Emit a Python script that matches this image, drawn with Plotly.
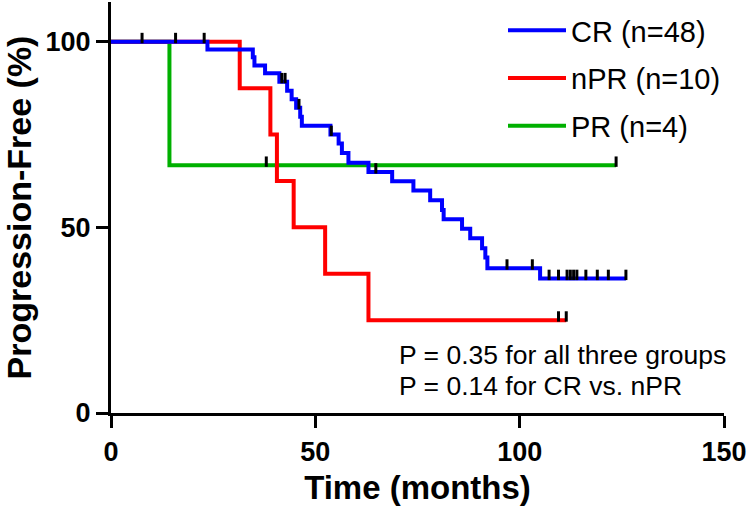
import plotly.graph_objects as go
import numpy as np

# ---- data ----
cr_time = [0, 23.6, 34.7, 35.1, 37.7, 41.2, 43.1, 44.2, 45.3, 46.3, 46.7, 53.7, 55.7, 56.5,
           58.1, 63.0, 68.8, 74.0, 78.1, 81.0, 81.4, 85.9, 87.9, 90.8, 91.6, 92.1, 105.0, 126.0]
cr_surv = [100, 97.9, 95.8, 93.6, 91.5, 89.2, 86.8, 84.5, 82.2, 79.8, 77.4, 75.0, 72.6, 70.0,
           67.4, 64.9, 62.4, 59.9, 57.3, 54.7, 52.2, 49.6, 47.1, 44.4, 41.9, 39.0, 36.2, 36.2]
cr_censor = [7.6, 15.8, 22.8, 41.8, 42.6, 46.0, 53.9, 64.8, 96.9, 103.1, 107.2, 109.5,
             111.6, 112.4, 113.2, 114.0, 116.2, 119.0, 121.7, 126.0]

npr_time = [0, 31.5, 39.0, 40.6, 44.7, 52.4, 63.0, 111.4]
npr_surv = [100, 87.5, 75.0, 62.5, 50.0, 37.5, 25.0, 25.0]
npr_censor = [109.5, 111.4]

pr_time = [0, 14.3, 123.6]
pr_surv = [100, 66.7, 66.7]
pr_censor = [38.0, 123.6]

names = ["CR (n=48)", "nPR (n=10)", "PR (n=4)"]
x_ticks = [0, 50, 100, 150]
y_ticks = [0, 50, 100]

BLUE, RED, GREEN = "#0000FF", "#FF0000", "#00B000"
FONT = "Arial, Liberation Sans, sans-serif"


def level_at(times, surv, t):
    idx = np.searchsorted(np.asarray(times), t, side="right") - 1
    return [surv[i] for i in idx]


groups = [
    (names[2], pr_time, pr_surv, pr_censor, GREEN),
    (names[1], npr_time, npr_surv, npr_censor, RED),
    (names[0], cr_time, cr_surv, cr_censor, BLUE),
]
legend_rank = {names[0]: 1, names[1]: 2, names[2]: 3}

fig = go.Figure()
for name, t, s, c, col in groups:
    fig.add_trace(go.Scatter(
        x=t, y=s, mode="lines", name=name, line=dict(color=col, width=4, shape="hv"),
        legendrank=legend_rank[name], legendgroup=name,
    ))
for name, t, s, c, col in groups:
    fig.add_trace(go.Scatter(
        x=c, y=level_at(t, s, c), mode="markers", showlegend=False, legendgroup=name,
        marker=dict(size=2, color="rgba(0,0,0,0)"),
        error_y=dict(type="constant", value=2.4, valueminus=0.4, symmetric=False,
                     width=0, thickness=3, color="black"),
        hoverinfo="skip",
    ))

PLOT_L, PLOT_W, PLOT_T, PLOT_H = 111, 613, 2, 411


def px_x(px):
    return (px - PLOT_L) / PLOT_W


def px_y(py):
    return 1 - (py - PLOT_T) / PLOT_H


for txt, py in [("P = 0.35 for all three groups", 355), ("P = 0.14 for CR vs. nPR", 386)]:
    fig.add_annotation(x=px_x(397), y=px_y(py), xref="paper", yref="paper",
                       text=txt, showarrow=False, xanchor="left", yanchor="middle",
                       font=dict(family=FONT, size=26.5, color="black"))

fig.update_layout(
    width=750, height=513,
    margin=dict(l=PLOT_L, r=750 - PLOT_L - PLOT_W, t=PLOT_T, b=513 - PLOT_T - PLOT_H, pad=0),
    paper_bgcolor="white", plot_bgcolor="white",
    showlegend=True,
    legend=dict(x=px_x(503), y=px_y(5), xanchor="left", yanchor="top",
                font=dict(family=FONT, size=29, color="black"),
                bgcolor="rgba(0,0,0,0)", tracegroupgap=7, itemwidth=58),
    xaxis=dict(range=[0, 150], tickvals=x_ticks, showline=True, linewidth=3, linecolor="black",
               ticks="outside", ticklen=12, tickwidth=3, tickcolor="black", showgrid=False,
               zeroline=False, ticklabelstandoff=1,
               tickfont=dict(family=FONT, size=27, color="black", weight="bold"),
               title=dict(text="Time (months)", standoff=10,
                          font=dict(family=FONT, size=33, color="black", weight="bold"))),
    yaxis=dict(range=[0, 110.7], tickvals=y_ticks, showline=True, linewidth=3, linecolor="black",
               ticks="outside", ticklen=12, tickwidth=3, tickcolor="black", showgrid=False,
               zeroline=False,
               tickfont=dict(family=FONT, size=27, color="black", weight="bold"),
               title=dict(text="Progression-Free (%)", standoff=6,
                          font=dict(family=FONT, size=34, color="black", weight="bold"))),
)

fig.write_html("out.html", config={"displayModeBar": False},
               post_script="document.body.style.margin='0';")
